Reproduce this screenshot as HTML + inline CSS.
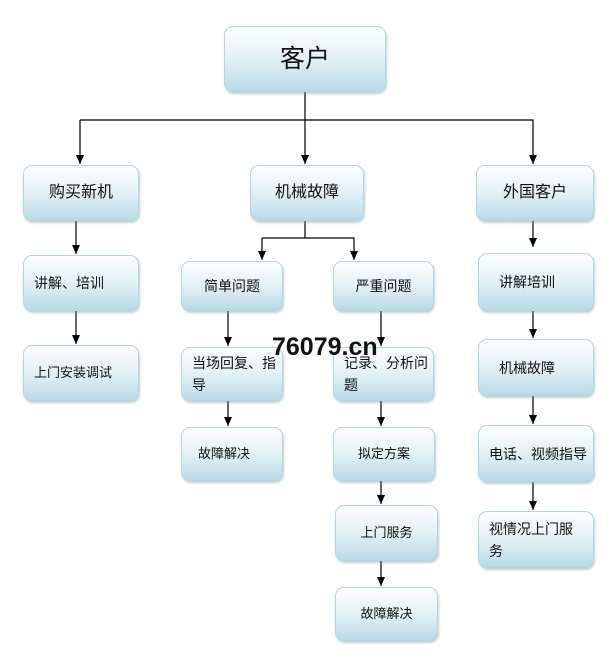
<!DOCTYPE html>
<html><head><meta charset="utf-8"><style>
body{margin:0;width:616px;height:662px;background:#fff;position:relative;overflow:hidden;font-family:"Liberation Sans","Noto Sans CJK SC",sans-serif;}
.b{position:absolute;box-sizing:border-box;border:1px solid #b9d3de;border-radius:9px;background:linear-gradient(#fdfefe 0%,#e6f2f6 45%,#b9dbe6 100%);box-shadow:1px 2px 2px rgba(120,150,160,.45);display:flex;align-items:center;justify-content:center;font-size:14px;color:#111;text-align:left;line-height:22px;}
.l{justify-content:flex-start;padding-left:10px;}
svg{position:absolute;left:0;top:0;}
.wm{position:absolute;left:272px;top:333px;font-size:25px;font-weight:bold;color:#111;font-family:"Liberation Sans",sans-serif;}
</style></head><body>
<svg width="616" height="662">
<defs><marker id="a" markerWidth="9" markerHeight="8" refX="9" refY="4" orient="auto" markerUnits="userSpaceOnUse"><path d="M0,0 L9,4 L0,8z" fill="#000"/></marker></defs>
<g stroke="#000" stroke-width="1.2" fill="none">
<line x1="305" y1="92" x2="305" y2="164" marker-end="url(#a)"/>
<polyline points="80,120 533,120 533,164" marker-end="url(#a)"/>
<line x1="80" y1="120" x2="80" y2="164" marker-end="url(#a)"/>
<line x1="76" y1="221" x2="76" y2="254" marker-end="url(#a)"/>
<line x1="76" y1="311" x2="76" y2="344" marker-end="url(#a)"/>
<line x1="305" y1="221" x2="305" y2="238"/>
<polyline points="262,238 354,238 354,260" marker-end="url(#a)"/>
<line x1="262" y1="238" x2="262" y2="260" marker-end="url(#a)"/>
<line x1="228" y1="311" x2="228" y2="346" marker-end="url(#a)"/>
<line x1="228" y1="401" x2="228" y2="426" marker-end="url(#a)"/>
<line x1="381" y1="311" x2="381" y2="346" marker-end="url(#a)"/>
<line x1="381" y1="401" x2="381" y2="426" marker-end="url(#a)"/>
<line x1="381" y1="481" x2="381" y2="504" marker-end="url(#a)"/>
<line x1="381" y1="561" x2="381" y2="586" marker-end="url(#a)"/>
<line x1="533" y1="221" x2="533" y2="247" marker-end="url(#a)"/>
<line x1="533" y1="311" x2="533" y2="338" marker-end="url(#a)"/>
<line x1="533" y1="396" x2="533" y2="424" marker-end="url(#a)"/>
<line x1="533" y1="482" x2="533" y2="510" marker-end="url(#a)"/>
</g></svg>
<div class="b" style="left:224px;top:26px;width:162px;height:66px;font-size:25px;">客户</div>
<div class="b" style="left:23px;top:165px;width:116px;height:56px;font-size:16px;">购买新机</div>
<div class="b" style="left:250px;top:165px;width:114px;height:56px;font-size:16px;">机械故障</div>
<div class="b" style="left:476px;top:165px;width:118px;height:56px;font-size:16px;">外国客户</div>
<div class="b l" style="left:23px;top:255px;width:116px;height:56px;">讲解、培训</div>
<div class="b l" style="left:23px;top:345px;width:116px;height:56px;font-size:13px;">上门安装调试</div>
<div class="b" style="left:181px;top:261px;width:102px;height:50px;">简单问题</div>
<div class="b" style="left:333px;top:261px;width:101px;height:50px;">严重问题</div>
<div class="b l" style="left:181px;top:347px;width:102px;height:54px;">当场回复、指导</div>
<div class="b l" style="left:181px;top:427px;width:102px;height:54px;padding-left:16px;font-size:13px;">故障解决</div>
<div class="b l" style="left:333px;top:347px;width:101px;height:54px;">记录、分析问题</div>
<div class="b" style="left:333px;top:427px;width:102px;height:54px;font-size:13px;">拟定方案</div>
<div class="b" style="left:335px;top:505px;width:103px;height:56px;font-size:13px;">上门服务</div>
<div class="b" style="left:335px;top:587px;width:103px;height:54px;font-size:13px;">故障解决</div>
<div class="b l" style="left:478px;top:253px;width:116px;height:58px;padding-left:20px;">讲解培训</div>
<div class="b l" style="left:478px;top:339px;width:116px;height:57px;padding-left:20px;">机械故障</div>
<div class="b l" style="left:478px;top:425px;width:116px;height:57px;">电话、视频指导</div>
<div class="b l" style="left:478px;top:511px;width:116px;height:57px;padding-right:8px;">视情况上门服务</div>
<div class="wm">76079.cn</div>
</body></html>
